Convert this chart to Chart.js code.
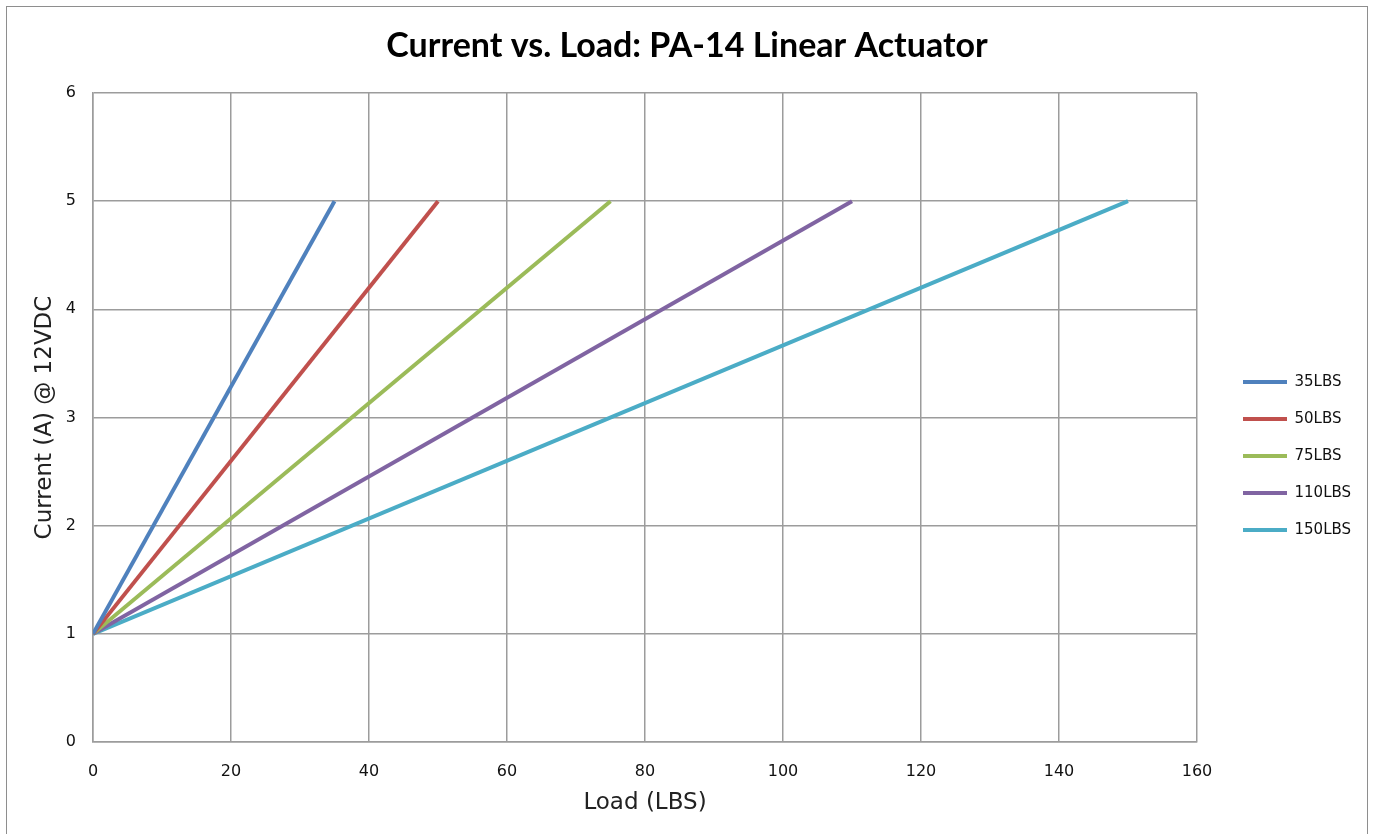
<!DOCTYPE html>
<html>
<head>
<meta charset="utf-8">
<title>Current vs. Load: PA-14 Linear Actuator</title>
<script src="https://cdn.jsdelivr.net/npm/chart.js@4.4.1/dist/chart.umd.min.js"></script>
<style>
html,body{margin:0;padding:0;background:#fff;overflow:hidden;}
#wrap{position:relative;width:1374px;height:834px;}
#frame{position:absolute;left:6px;top:6px;width:1362px;height:900px;border:1.5px solid #8e8e8e;box-sizing:border-box;pointer-events:none;}
</style>
</head>
<body>
<div id="wrap">
<canvas id="loadChart" width="1374" height="834"></canvas>
<div id="frame"></div>
</div>
<script>

// Data

const seriesLabels = ["35LBS","50LBS","75LBS","110LBS","150LBS"];

const noLoad = [0,0,0,0,0];

const noLoadCurrent = [1,1,1,1,1];

const maxLoad = [35,50,75,110,150];

const maxCurrent = [5,5,5,5,5];

const xTicks = [0,20,40,60,80,100,120,140,160];

const yTicks = [0,1,2,3,4,5,6];

const lineColors = ["#4F81BD","#C0504D","#9BBB59","#8064A2","#4BACC6"];

const gridColor = "#9c9c9c";

const datasets = seriesLabels.map((name,i)=>({
label:name,
data:[
{x:noLoad[i],y:noLoadCurrent[i]},
{x:maxLoad[i],y:maxCurrent[i]}
],
borderColor:lineColors[i],
backgroundColor:lineColors[i],
borderWidth:4,
pointRadius:0,
tension:0,
fill:false
}));

// keep legend in its own column to the right of the plot
const legendPlace = {
id:"legendPlace",
beforeLayout(chart){
const lg = chart.legend;
if(lg && !lg._fixed){
const fit = lg.fit;
lg.fit = function(){
fit.call(this);
this.width = 177;
};
lg._fixed = true;
}
},
afterLayout(chart){
const lg = chart.legend;
if(!lg) return;
lg.left = 1221;
lg.right = 1221 + 177;
lg.top = 352.5;
lg.bottom = 352.5 + 207;
}
};

const ctx = document.getElementById("loadChart");

new Chart(ctx,{

type:"line",

data:{datasets:datasets},

options:{
responsive:false,
animation:false,
devicePixelRatio:1,
layout:{padding:0},
plugins:{
title:{
display:true,
text:"Current vs. Load: PA-14 Linear Actuator",
color:"#000",
font:{family:"Lato",size:34,weight:"bold",lineHeight:1.2},
padding:{top:25.6,bottom:26.6}
},
legend:{
position:"right",
labels:{
usePointStyle:true,
pointStyle:"line",
pointStyleWidth:44,
boxWidth:44,
padding:22,
color:"#111",
font:{family:"DejaVu Sans",size:15}
}
},
tooltip:{enabled:false}
},
scales:{
x:{
type:"linear",
min:xTicks[0],
max:xTicks[xTicks.length-1],
afterFit(scale){ scale.height = 92; },
afterBuildTicks(scale){ scale.ticks = xTicks.map(v=>({value:v})); },
ticks:{
color:"#111",
padding:20,
font:{family:"DejaVu Sans",size:16}
},
grid:{color:gridColor,lineWidth:1.5,drawTicks:false},
border:{color:gridColor,width:1.5},
title:{
display:true,
text:"Load (LBS)",
color:"#222",
font:{family:"DejaVu Sans",size:23},
padding:{top:0,bottom:17}
}
},
y:{
type:"linear",
min:yTicks[0],
max:yTicks[yTicks.length-1],
afterFit(scale){ scale.width = 93; },
afterBuildTicks(scale){ scale.ticks = yTicks.map(v=>({value:v})); },
ticks:{
color:"#111",
padding:17,
font:{family:"DejaVu Sans",size:16}
},
grid:{color:gridColor,lineWidth:1.5,drawTicks:false},
border:{color:gridColor,width:1.5},
title:{
display:true,
text:"Current (A) @ 12VDC",
color:"#222",
font:{family:"DejaVu Sans",size:23},
padding:{top:31,bottom:0}
}
}
}
},

plugins:[legendPlace]

});

</script>
</body>
</html>
